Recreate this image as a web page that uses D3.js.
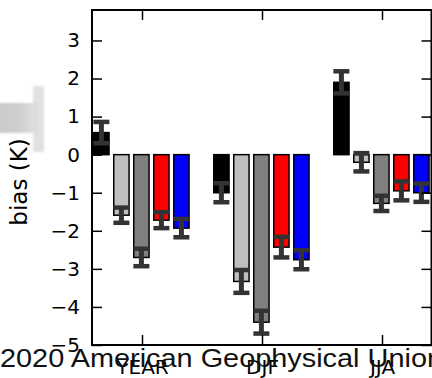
<!DOCTYPE html>
<html>
<head>
<meta charset="utf-8">
<script src="https://cdn.jsdelivr.net/npm/d3@7"></script>
<style>
  body { margin: 0; background: #fff; }
  svg { display: block; }
</style>
</head>
<body>
<script>

// categories and values
var seasons = ["YEAR", "DJF", "JJA"];
var seriesColors = ["#000000", "#bfbfbf", "#808080", "#ff0000", "#0000ff"];
var biasBlack     = [0.58, -1.00, 1.90];
var biasLightGray = [-1.59, -3.33, -0.20];
var biasGray      = [-2.70, -4.40, -1.28];
var biasRed       = [-1.72, -2.43, -0.95];
var biasBlue      = [-1.93, -2.76, -1.00];
var errBlack      = [0.28, 0.25, 0.29];
var errLightGray  = [0.20, 0.30, 0.24];
var errGray       = [0.23, 0.30, 0.20];
var errRed        = [0.21, 0.27, 0.25];
var errBlue       = [0.24, 0.25, 0.24];
var yTicks = [-5, -4, -3, -2, -1, 0, 1, 2, 3];

var allBias = [biasBlack, biasLightGray, biasGray, biasRed, biasBlue];
var allErr = [errBlack, errLightGray, errGray, errRed, errBlue];

var W = 432, H = 378;
var margin = {top: 10, right: 0, bottom: 33, left: 92};

var svg = d3.select("body").append("svg")
    .attr("width", W)
    .attr("height", H);

// x in "category units": each season at 0,1,2, bars 1/6 wide
var x = d3.scaleLinear()
    .domain([-5/12, 2 + 5/12])
    .range([margin.left, W - margin.right]);
var y = d3.scaleLinear()
    .domain([-5, 3.8])
    .range([H - margin.bottom, margin.top]);

// flatten into one list of bars
var bars = [];
allBias.forEach(function(vals, s) {
  vals.forEach(function(v, c) {
    bars.push({s: s, c: c, v: v, e: allErr[s][c]});
  });
});

var slot = 1/6, barW = 0.14;
function barLeft(d) { return x(d.c - 5/12 + d.s * slot) + 1; }

// faded grey shape on the left edge (background artefact of the figure)
var defs = svg.append("defs");
var grad = defs.append("linearGradient").attr("id", "fade");
grad.append("stop").attr("offset", "0").attr("stop-color", "#cacaca");
grad.append("stop").attr("offset", "0.6").attr("stop-color", "#cfcfcf");
grad.append("stop").attr("offset", "1").attr("stop-color", "#e6e6e6");
defs.append("filter").attr("id", "soft")
  .append("feGaussianBlur").attr("stdDeviation", 1.2);
var smudge = svg.append("g").attr("filter", "url(#soft)");
smudge.append("rect").attr("x", -4).attr("y", 103).attr("width", 42).attr("height", 30)
    .attr("fill", "url(#fade)");
smudge.append("rect").attr("x", 33).attr("y", 86).attr("width", 11).attr("height", 66)
    .attr("fill", "#dcdcdc").attr("opacity", 0.85);

var plot = svg.append("g");

plot.selectAll(".bar")
    .data(bars)
  .enter().append("rect")
    .attr("class", "bar")
    .attr("x", function(d) { return barLeft(d) + 0.75; })
    .attr("width", function(d) { return x(barW) - x(0) - 1.5; })
    .attr("y", function(d) { return y(Math.max(0, d.v)); })
    .attr("height", function(d) { return Math.abs(y(d.v) - y(0)); })
    .attr("fill", function(d) { return seriesColors[d.s]; })
    .attr("stroke", "#000")
    .attr("stroke-width", 1.5);

// error bars
var eb = plot.selectAll(".err")
    .data(bars)
  .enter().append("g")
    .attr("class", "err")
    .attr("stroke", "#333333");
function midX(d) { return barLeft(d) + (x(barW) - x(0)) / 2; }
eb.append("line")
    .attr("x1", midX).attr("x2", midX)
    .attr("y1", function(d) { return y(d.v + d.e); })
    .attr("y2", function(d) { return y(d.v - d.e); })
    .attr("stroke-width", 5);
eb.selectAll(".cap")
    .data(function(d) { return [d.v + d.e, d.v - d.e].map(function(t) { return {d: d, t: t}; }); })
  .enter().append("line")
    .attr("x1", function(p) { return midX(p.d) - 8; })
    .attr("x2", function(p) { return midX(p.d) + 8; })
    .attr("y1", function(p) { return y(p.t); })
    .attr("y2", function(p) { return y(p.t); })
    .attr("stroke-width", 4.5);

// axes, ticks pointing inward on all four sides
var left = svg.append("g")
    .attr("transform", "translate(" + margin.left + ",0)")
    .call(d3.axisLeft(y).tickValues(yTicks).tickSizeInner(-10).tickSizeOuter(0).tickPadding(12)
      .tickFormat(function(d) { return d < 0 ? "\u2212" + Math.abs(d) : d; }));
svg.append("g")
    .attr("transform", "translate(" + (W - margin.right - 0.5) + ",0)")
    .call(d3.axisRight(y).tickValues(yTicks).tickSizeInner(-10).tickSizeOuter(0).tickFormat(""));
var bottom = svg.append("g")
    .attr("transform", "translate(0," + (H - margin.bottom) + ")")
    .call(d3.axisBottom(x).tickValues([0, 1, 2]).tickSizeInner(-10).tickSizeOuter(0).tickPadding(15)
      .tickFormat(function(d) { return seasons[d]; }));
svg.append("g")
    .attr("transform", "translate(0," + margin.top + ")")
    .call(d3.axisTop(x).tickValues([0, 1, 2]).tickSizeInner(-10).tickSizeOuter(0).tickFormat(""));

svg.selectAll(".domain").remove();
svg.selectAll(".tick line").attr("stroke", "#000").attr("stroke-width", 1.5);
left.selectAll("text")
    .attr("font-family", "DejaVu Sans").attr("font-size", 20).attr("fill", "#000");
bottom.selectAll("text")
    .attr("font-family", "DejaVu Sans").attr("font-size", 20).attr("fill", "#000");

// frame
svg.append("rect")
    .attr("x", margin.left).attr("y", margin.top)
    .attr("width", W - margin.right - margin.left - 0.5)
    .attr("height", H - margin.bottom - margin.top)
    .attr("fill", "none").attr("stroke", "#000").attr("stroke-width", 2);

// y label
svg.append("text")
    .attr("transform", "translate(27,182) rotate(-90)")
    .attr("text-anchor", "middle")
    .attr("font-family", "DejaVu Sans").attr("font-size", 23)
    .text("bias (K)");

// copyright overlay across the bottom (runs off the right edge)
svg.append("text")
    .attr("x", 0).attr("y", 367)
    .attr("font-family", "Liberation Sans, Arial").attr("font-size", 25)
    .attr("fill", "#111")
    .attr("textLength", 443).attr("lengthAdjust", "spacingAndGlyphs")
    .text("2020 American Geophysical Union");

</script>
</body>
</html>
